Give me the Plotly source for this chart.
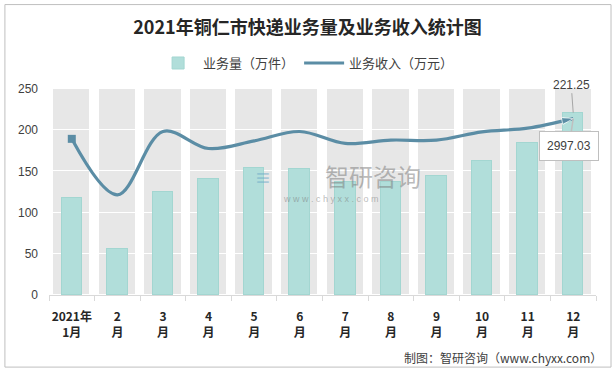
import plotly.graph_objects as go

months = ["2021年<br>1月", "2<br>月", "3<br>月", "4<br>月", "5<br>月", "6<br>月",
          "7<br>月", "8<br>月", "9<br>月", "10<br>月", "11<br>月", "12<br>月"]
volume = [117.5, 55.5, 124.8, 140.6, 154.0, 152.7, 137.7, 137.7, 145.0, 163.2, 184.3, 221.25]
revenue = [2653, 1701, 2778, 2489, 2618, 2778, 2576, 2632, 2632, 2772, 2835, 2997.03]
y_ticks = [0, 50, 100, 150, 200, 250]
rev_axis_max = 3500

title = "2021年铜仁市快递业务量及业务收入统计图"
name_vol = "业务量（万件）"
name_rev = "业务收入（万元）"
source = "制图：智研咨询（www.chyxx.com）"

CJK = "Noto Sans CJK SC"
LAT = "Liberation Sans"
LINE_C = "#5B8DA5"
n = len(months)

fig = go.Figure()

# grey background columns split at each gridline step (white outline shows as gridline)
steps = [y_ticks[i + 1] - y_ticks[i] for i in range(len(y_ticks) - 1)]
for s in steps:
    fig.add_trace(go.Bar(
        x=months, y=[s] * n, width=0.82,
        marker=dict(color="#E7E7E7", line=dict(color="#FFFFFF", width=1)),
        showlegend=False, hoverinfo="skip", xaxis="x", yaxis="y"))

fig.add_trace(go.Bar(
    x=months, y=volume, name=name_vol, width=0.45,
    marker=dict(color="#B1DEDA", line=dict(color="#A3D6D1", width=1)),
    xaxis="x", yaxis="y2"))

fig.add_trace(go.Scatter(
    x=months, y=revenue, name=name_rev, mode="lines",
    line=dict(color=LINE_C, width=3.2, shape="spline", smoothing=1.0),
    xaxis="x", yaxis="y3"))

# start marker (square) and end arrowhead
fig.add_trace(go.Scatter(
    x=months[:1], y=revenue[:1], mode="markers", showlegend=False, hoverinfo="skip",
    marker=dict(symbol="square", size=8, color=LINE_C),
    xaxis="x", yaxis="y3"))
fig.add_trace(go.Scatter(
    x=months[-2:], y=revenue[-2:], mode="markers", showlegend=False, hoverinfo="skip",
    marker=dict(symbol="arrow", size=[0, 12], color=LINE_C, angleref="previous"),
    xaxis="x", yaxis="y3"))

fig.update_layout(
    width=615, height=372,
    margin=dict(l=49, r=19, t=89, b=77, autoexpand=False),
    paper_bgcolor="#FFFFFF", plot_bgcolor="#FFFFFF",
    barmode="stack", bargap=0,
    title=dict(text="<b>" + title + "</b>", x=0.5, xanchor="center", y=1 - 28 / 372,
               yanchor="middle", font=dict(family=CJK, size=18, color="#262626")),
    legend=dict(orientation="h", x=0.47, xanchor="center", y=1.126, yanchor="middle",
                traceorder="normal",
                font=dict(family=CJK, size=13, color="#404040"), itemwidth=40,
                bgcolor="rgba(0,0,0,0)"),
    xaxis=dict(type="category", showgrid=False, showline=True, linecolor="#D9D9D9",
               linewidth=1, ticks="outside", tickson="boundaries", ticklen=5,
               tickcolor="#D9D9D9", ticklabelstandoff=11, tickangle=0, automargin=False,
               tickfont=dict(family=CJK, size=12, color="#262626", weight="bold"),
               range=[-0.5, n - 0.5]),
    yaxis=dict(range=[0, 250], tickvals=y_ticks, showgrid=False, zeroline=False,
               showline=False, ticks="", ticklabelstandoff=10, automargin=False,
               tickfont=dict(family=LAT, size=12, color="#404040")),
    yaxis2=dict(range=[0, 250], overlaying="y", visible=False, showgrid=False),
    yaxis3=dict(range=[0, rev_axis_max], overlaying="y", visible=False, showgrid=False),
    showlegend=True,
)

# data labels
fig.add_annotation(x=months[-1], y=volume[-1], xref="x", yref="y2",
                   text=f"{volume[-1]:.2f}", showarrow=True, arrowhead=0,
                   arrowcolor="#A6A6A6", arrowwidth=1, ax=-2, ay=-28,
                   font=dict(family=LAT, size=12, color="#404040"))
fig.add_annotation(x=months[-1], y=revenue[-1], xref="x", yref="y3",
                   text=f"{revenue[-1]:.2f}", showarrow=True, arrowhead=0,
                   arrowcolor="#BFBFBF", arrowwidth=1.5, ax=-4, ay=27,
                   bgcolor="#FFFFFF", bordercolor="#BFBFBF", borderwidth=1,
                   borderpad=7, font=dict(family=LAT, size=12, color="#404040"))

# watermark
fig.add_annotation(x=(372 - 49) / 546, y=(295 - 176) / 205.7, xref="paper", yref="paper",
                   text="智研咨询", showarrow=False,
                   font=dict(family=CJK, size=24, color="rgba(120,120,120,0.5)"))
fig.add_annotation(x=(330 - 49) / 546, y=(295 - 199) / 205.7, xref="paper", yref="paper",
                   text="w w w . c h y x x . c o m", showarrow=False,
                   font=dict(family=LAT, size=9, color="rgba(120,120,120,0.5)"))
fig.add_annotation(x=(263 - 49) / 546, y=(295 - 178) / 205.7, xref="paper", yref="paper",
                   text="<b>≡</b>", showarrow=False,
                   font=dict(family=LAT, size=24, color="rgba(110,170,200,0.5)"))

# source note
fig.add_annotation(x=(603 - 49) / 546, y=(295 - 357) / 205.7, xref="paper", yref="paper",
                   xanchor="right", yanchor="middle", text=source, showarrow=False,
                   font=dict(family=CJK, size=12, color="#404040"))

# outer frame
fig.add_shape(type="rect", xref="paper", yref="paper",
              x0=(5 - 49) / 546, x1=(610 - 49) / 546,
              y0=(295 - 367) / 205.7, y1=(295 - 5) / 205.7,
              line=dict(color="#BFBFBF", width=1), fillcolor="rgba(0,0,0,0)", layer="below")

fig.write_html("out.html", config={"displayModeBar": False},
               post_script="document.body.style.margin='0px';")
